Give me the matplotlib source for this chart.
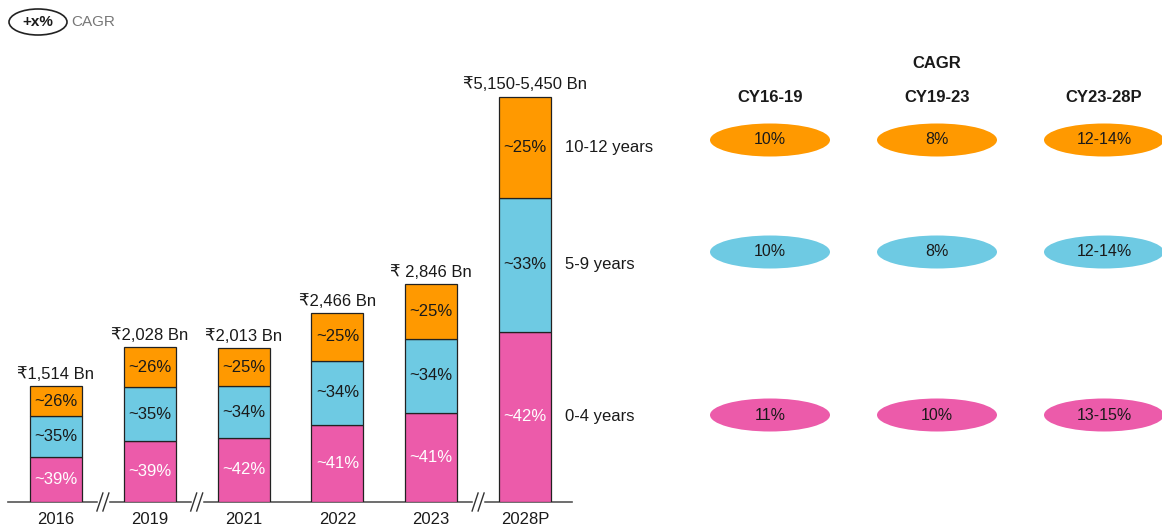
import matplotlib
matplotlib.use("Agg")
import numpy as np
import matplotlib.pyplot as plt
from matplotlib.patches import Ellipse

plt.rcParams['font.family'] = ['Liberation Sans', 'DejaVu Sans']

# data
years = ['2016', '2019', '2021', '2022', '2023', '2028P']
totals = [1514, 2028, 2013, 2466, 2846, 5300]
total_labels = ['₹1,514 Bn', '₹2,028 Bn', '₹2,013 Bn', '₹2,466 Bn', '₹ 2,846 Bn', '₹5,150-5,450 Bn']
share_0_4 = [39, 39, 42, 41, 41, 42]
share_5_9 = [35, 35, 34, 34, 34, 33]
share_10_12 = [26, 26, 25, 25, 25, 25]
age_groups = ['0-4 years', '5-9 years', '10-12 years']
cagr_periods = ['CY16-19', 'CY19-23', 'CY23-28P']
cagr_0_4 = ['11%', '10%', '13-15%']
cagr_5_9 = ['10%', '8%', '12-14%']
cagr_10_12 = ['10%', '8%', '12-14%']
breaks_after = [0, 1, 4]

colors = ['#EC5BAA', '#6ECAE3', '#FF9900']
text_colors = ['white', '#1a1a1a', '#1a1a1a']
fs = 12

W, H = 1162, 528
fig = plt.figure(figsize=(W / 100, H / 100), dpi=100)

# bar axes placed in pixel terms
base_px = 502
left_px, right_px = 8, 572
step = 93.8
px_per_bn = 0.0765
ymax = 6000
ax = fig.add_axes([left_px / W, (H - base_px) / H,
                   (right_px - left_px) / W, ymax * px_per_bn / H])
ax.set_xlim((left_px - 56) / step, (right_px - 56) / step)
ax.set_ylim(0, ymax)

x = np.arange(len(years))
width = 52 / step
shares = np.array([share_0_4, share_5_9, share_10_12], dtype=float)
shares = shares / shares.sum(axis=0)
tot = np.array(totals, dtype=float)
bottom = np.zeros(len(years))
seg_mids = []
for k in range(3):
    h = shares[k] * tot
    ax.bar(x, h, width, bottom=bottom, color=colors[k], edgecolor='#222222', linewidth=0.9, zorder=3)
    mids = bottom + h / 2
    seg_mids.append(mids)
    labels = [share_0_4, share_5_9, share_10_12][k]
    for i in range(len(years)):
        ax.text(x[i], mids[i], f'~{labels[i]}%', ha='center', va='center',
                fontsize=fs, color=text_colors[k], zorder=4)
    bottom = bottom + h

for i in range(len(years)):
    ax.annotate(total_labels[i], (x[i], tot[i]), xytext=(0, 3), textcoords='offset points',
                ha='center', va='bottom', fontsize=fs, color='#1a1a1a')

for k in range(3):
    ax.annotate(age_groups[k], (x[-1] + width / 2, seg_mids[k][-1]), xytext=(10, 0),
                textcoords='offset points', ha='left', va='center', fontsize=fs,
                color='#1a1a1a', annotation_clip=False)

for s in ['top', 'right', 'left']:
    ax.spines[s].set_visible(False)
ax.spines['bottom'].set_color('#555555')
ax.spines['bottom'].set_linewidth(1.2)
ax.set_yticks([])
ax.set_xticks(x)
ax.set_xticklabels(years, fontsize=fs, color='#1a1a1a')
ax.tick_params(axis='x', length=0, pad=7)

# axis break marks
dx_px = 1 / step
dy_px = 1 / px_per_bn
for b in breaks_after:
    xc = b + 0.5
    ax.plot([xc - 4 * dx_px, xc + 4 * dx_px], [0, 0], color='white', lw=2.5,
            clip_on=False, zorder=5)
    for off in (-3, 3):
        ax.plot([xc + (off - 3) * dx_px, xc + (off + 3) * dx_px],
                [-9 * dy_px, 9 * dy_px], color='#333333', lw=1.0,
                clip_on=False, zorder=6)

# overlay in pixel coordinates for CAGR panel
ov = fig.add_axes([0, 0, 1, 1])
ov.set_xlim(0, W)
ov.set_ylim(H, 0)
ov.axis('off')
ov.patch.set_alpha(0)

col_x = [770, 937, 1104]
row_y = [415, 252, 140]
ov.text(937, 63, 'CAGR', ha='center', va='center', fontsize=fs, fontweight='bold', color='#1a1a1a')
for j, p in enumerate(cagr_periods):
    ov.text(col_x[j], 97, p, ha='center', va='center', fontsize=fs, fontweight='bold', color='#1a1a1a')
for k, vals in enumerate([cagr_0_4, cagr_5_9, cagr_10_12]):
    for j, v in enumerate(vals):
        ov.add_patch(Ellipse((col_x[j], row_y[k]), 120, 33, facecolor=colors[k],
                             edgecolor='none', clip_on=False))
        ov.text(col_x[j], row_y[k], v, ha='center', va='center', fontsize=11.5,
                color=text_colors[k] if k > 0 else '#1a1a1a')

# legend at top-left
ov.add_patch(Ellipse((38, 22), 58, 26, facecolor='white', edgecolor='#222222', lw=1.2))
ov.text(38, 22, '+x%', ha='center', va='center', fontsize=11, fontweight='bold', color='#1a1a1a')
ov.text(71, 22, 'CAGR', ha='left', va='center', fontsize=11, color='#777777')

fig.savefig('out.png', dpi=100)
